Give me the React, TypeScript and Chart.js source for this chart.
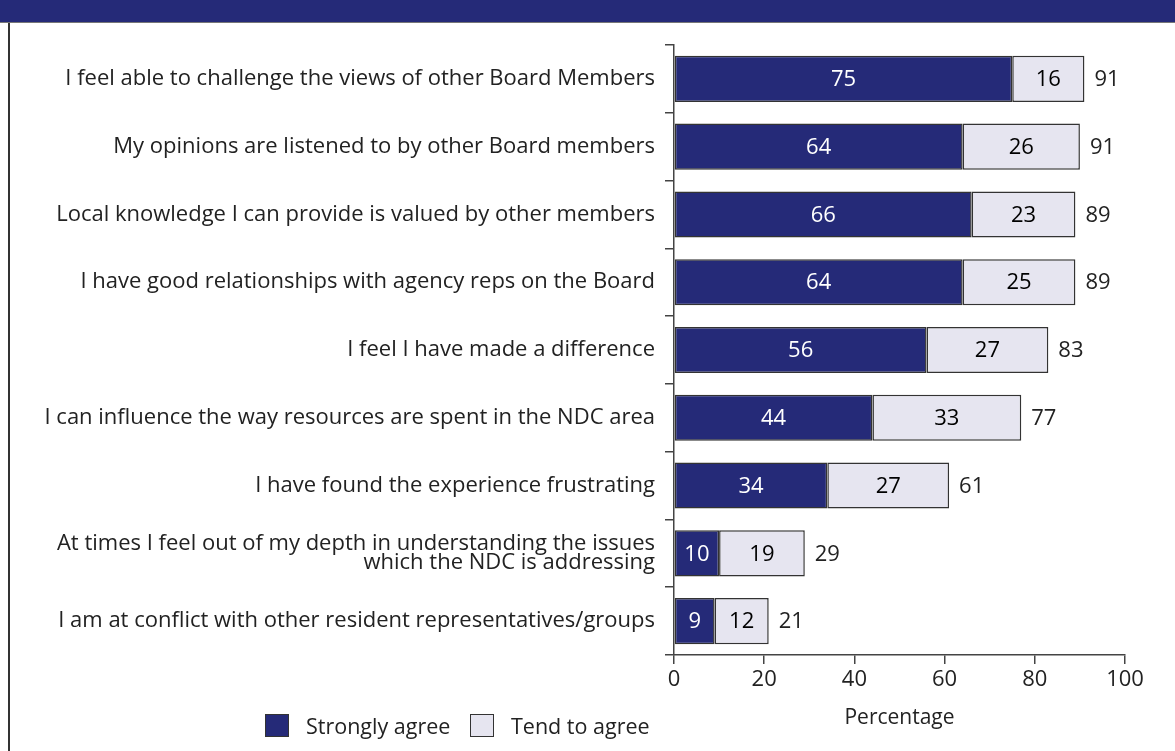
import React, { useEffect, useRef } from "react";
import { Chart, registerables } from "chart.js";

Chart.register(...registerables);

const categories: (string | string[])[] = [
  "I feel able to challenge the views of other Board Members",
  "My opinions are listened to by other Board members",
  "Local knowledge I can provide is valued by other members",
  "I have good relationships with agency reps on the Board",
  "I feel I have made a difference",
  "I can influence the way resources are spent in the NDC area",
  "I have found the experience frustrating",
  ["At times I feel out of my depth in understanding the issues", "which the NDC is addressing"],
  "I am at conflict with other resident representatives/groups",
];
const stronglyAgree = [75, 64, 66, 64, 56, 44, 34, 10, 9];
const tendToAgree = [16, 26, 23, 25, 27, 33, 27, 19, 12];
const totals = [91, 91, 89, 89, 83, 77, 61, 29, 21];
const xTicks = [0, 20, 40, 60, 80, 100];

const NAVY = "#252a78";
const LIGHT = "#e6e5f0";
const EDGE = "#333333";
const FONT = "'Open Sans', 'Noto Sans', sans-serif";

export default function App() {
  const ref = useRef<HTMLCanvasElement | null>(null);

  useEffect(() => {
    if (!ref.current) return;
    const labelPlugin = {
      id: "barLabels",
      afterDatasetsDraw(chart: any) {
        const ctx = chart.ctx;
        const m0 = chart.getDatasetMeta(0);
        const m1 = chart.getDatasetMeta(1);
        ctx.save();
        ctx.textBaseline = "middle";
        m0.data.forEach((el: any, i: number) => {
          const p = el.getProps(["x", "y", "base"], true);
          ctx.font = `22px ${FONT}`;
          ctx.fillStyle = "#ffffff";
          ctx.textAlign = "center";
          ctx.fillText(String(stronglyAgree[i]), (p.x + p.base) / 2, p.y + 1);
        });
        m1.data.forEach((el: any, i: number) => {
          const p = el.getProps(["x", "y", "base"], true);
          ctx.font = `22px ${FONT}`;
          ctx.fillStyle = "#000000";
          ctx.textAlign = "center";
          ctx.fillText(String(tendToAgree[i]), (p.x + p.base) / 2, p.y + 1);
          ctx.fillStyle = "#222222";
          ctx.textAlign = "left";
          ctx.fillText(String(totals[i]), p.x + 10, p.y + 1);
        });
        ctx.restore();
      },
    };

    const chart = new Chart(ref.current, {
      type: "bar",
      data: {
        labels: categories,
        datasets: [
          {
            label: "Strongly agree",
            data: stronglyAgree,
            backgroundColor: NAVY,
            borderColor: EDGE,
            borderWidth: 1.5,
            borderSkipped: false,
            barPercentage: 0.68,
            categoryPercentage: 1,
          },
          {
            label: "Tend to agree",
            data: tendToAgree,
            backgroundColor: LIGHT,
            borderColor: EDGE,
            borderWidth: 1.5,
            borderSkipped: false,
            barPercentage: 0.68,
            categoryPercentage: 1,
          },
        ],
      },
      options: {
        indexAxis: "y",
        animation: false,
        responsive: false,
        maintainAspectRatio: false,
        layout: { padding: { top: 45, right: 50, bottom: 0, left: 0 } },
        plugins: {
          legend: { display: false },
          tooltip: { enabled: false },
          title: { display: false },
        },
        scales: {
          x: {
            stacked: true,
            min: 0,
            max: 100,
            afterBuildTicks(scale: any) {
              scale.ticks = xTicks.map((v) => ({ value: v }));
            },
            afterFit(scale: any) {
              scale.height = 96;
            },
            grid: {
              drawOnChartArea: false,
              drawTicks: true,
              tickLength: 9,
              color: "#444",
              lineWidth: 1.5,
            },
            border: { display: true, color: "#444", width: 1.5 },
            ticks: {
              color: "#222",
              font: { family: FONT, size: 22 },
              padding: 3,
              maxRotation: 0,
            },
            title: {
              display: true,
              text: "Percentage",
              color: "#222",
              font: { family: FONT, size: 21 },
              padding: { top: 20, bottom: 20 },
            },
          },
          y: {
            stacked: true,
            afterFit(scale: any) {
              scale.width = 674;
            },
            grid: {
              offset: true,
              drawOnChartArea: false,
              drawTicks: true,
              tickLength: 9,
              color: "#444",
              lineWidth: 1.5,
            },
            border: { display: true, color: "#444", width: 1.5 },
            ticks: {
              color: "#222",
              font: { family: FONT, size: 22, lineHeight: 0.86 },
              padding: 10,
              autoSkip: false,
            },
          },
        },
      },
      plugins: [labelPlugin],
    } as any);
    return () => chart.destroy();
  }, []);

  const legendItem = (color: string, text: string, left: number) => (
    <div
      style={{
        position: "absolute",
        left,
        top: 712,
        height: 26,
        display: "flex",
        alignItems: "center",
        fontFamily: FONT,
        fontSize: 21.5,
        color: "#222",
        whiteSpace: "nowrap",
      }}
    >
      <span
        style={{
          display: "inline-block",
          boxSizing: "border-box",
          width: 24,
          height: 23,
          background: color,
          border: `1.5px solid ${EDGE}`,
          marginRight: 17,
        }}
      />
      <span>{text}</span>
    </div>
  );

  return (
    <div
      style={{
        position: "absolute",
        left: 0,
        top: 0,
        width: 1175,
        height: 751,
        background: "#fff",
        overflow: "hidden",
      }}
    >
      <div
        style={{
          position: "absolute",
          left: 0,
          top: 0,
          width: 1175,
          height: 22,
          background: NAVY,
          borderBottom: "1px solid #777",
        }}
      />
      <div
        style={{
          position: "absolute",
          left: 8,
          top: 23,
          width: 1.5,
          height: 728,
          background: "#333",
        }}
      />
      <canvas ref={ref} width={1175} height={751} style={{ position: "absolute", left: 0, top: 0 }} />
      {legendItem(NAVY, "Strongly agree", 265)}
      {legendItem(LIGHT, "Tend to agree", 470)}
    </div>
  );
}
